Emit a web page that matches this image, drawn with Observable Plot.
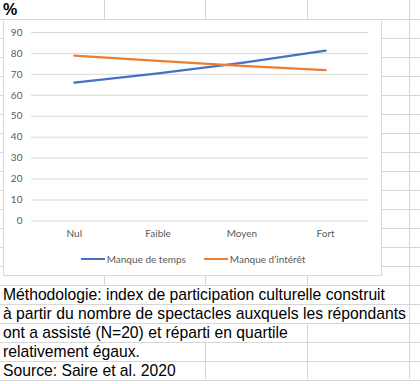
<!DOCTYPE html>
<html>
<head>
<meta charset="utf-8">
<script src="https://cdn.jsdelivr.net/npm/d3@7"></script>
<script src="https://cdn.jsdelivr.net/npm/@observablehq/plot@0.6"></script>
<style>
  html, body { margin: 0; padding: 0; background: #fff; }
  #sheet { position: relative; width: 420px; height: 384px; overflow: hidden; font-family: "Liberation Sans", Arial, sans-serif; }
  .hl, .vl { position: absolute; background: #d6d6d6; }
  .hl { height: 1px; }
  .vl { width: 1px; }
  .cell { position: absolute; left: 3px; font-size: 15.7px; color: #000; white-space: nowrap; line-height: 19px; background: #fff; padding-right: 1px; }
  #chartbox { position: absolute; left: 3px; top: 19px; width: 377px; height: 255px; border: 1px solid #d9d9d9; background: #fff; }
  #chartbox svg { position: absolute; left: 0; top: 0; }
  #legend { position: absolute; left: 0; width: 378px; top: 233px; display: flex; justify-content: center; gap: 18px; font-family: Lato, sans-serif; font-size: 10px; color: #595959; }
  .item { display: flex; align-items: center; gap: 2px; }
  .sw { width: 24px; height: 2px; }
</style>
</head>
<body>
<div id="sheet"></div>
<script>
// ---- data ----
const categories = ["Nul", "Faible", "Moyen", "Fort"];
const seriesNames = ["Manque de temps", "Manque d\u2019intérêt"];
const manqueDeTemps = [66, 70.5, 75.5, 81.3];
const manqueDInteret = [79, 76.4, 74, 72];
const yTicks = [0, 10, 20, 30, 40, 50, 60, 70, 80, 90];
const seriesColors = ["#4472c4", "#ed7d31"];
const headerText = "%";
const noteLines = [
  "Méthodologie: index de participation culturelle construit",
  "à partir du nombre de spectacles auxquels les répondants",
  "ont a assisté (N=20) et réparti en quartile",
  "relativement égaux.",
  "Source: Saire et al. 2020"
];

const data = [
  ...categories.map((c, i) => ({cat: c, value: manqueDeTemps[i], series: seriesNames[0]})),
  ...categories.map((c, i) => ({cat: c, value: manqueDInteret[i], series: seriesNames[1]}))
];

// ---- spreadsheet grid ----
const sheet = document.getElementById("sheet");
const rowH = 19.0, row0 = 18.7;
const colX = [104, 205, 307, 409];
function hline(x, y, w) { const d = document.createElement("div"); d.className = "hl"; d.style.left = x + "px"; d.style.top = Math.round(y) + "px"; d.style.width = w + "px"; sheet.appendChild(d); }
function vline(x, y, h) { const d = document.createElement("div"); d.className = "vl"; d.style.left = x + "px"; d.style.top = Math.round(y) + "px"; d.style.height = Math.round(h) + "px"; sheet.appendChild(d); }
for (let k = 0; k <= 19; k++) hline(0, row0 + rowH * k, 420);
colX.forEach(x => vline(x, 0, 379));

// header cell
const hc = document.createElement("div");
hc.className = "cell"; hc.textContent = headerText;
hc.style.top = "0px"; hc.style.fontWeight = "bold"; hc.style.fontSize = "16px"; hc.style.background = "transparent";
sheet.appendChild(hc);

// note cells (text overflow hides grid lines behind)
noteLines.forEach((t, i) => {
  const c = document.createElement("div");
  c.className = "cell"; c.textContent = t;
  c.style.top = (Math.round(row0 + rowH * (14 + i)) + 1) + "px";
  c.style.height = "18px";
  c.style.lineHeight = "18px";
  sheet.appendChild(c);
});

// ---- chart ----
const box = document.createElement("div");
box.id = "chartbox";
sheet.appendChild(box);

const chart = Plot.plot({
  width: 378,
  height: 230,
  marginLeft: 27,
  marginRight: 13,
  marginTop: 12,
  marginBottom: 29,
  style: {fontFamily: "Lato, sans-serif", fontSize: "10px", color: "#595959", background: "transparent"},
  x: {type: "point", domain: categories, padding: 0.5, label: null},
  y: {domain: [0, 90], label: null},
  color: {domain: seriesNames, range: seriesColors},
  marks: [
    Plot.gridY(yTicks, {stroke: "#d9d9d9", strokeOpacity: 1, strokeWidth: 1}),
    Plot.axisY(yTicks, {tickSize: 0, tickPadding: 9, label: null, fill: "#595959"}),
    Plot.axisX(categories, {tickSize: 0, tickPadding: 9, label: null, fill: "#595959"}),
    Plot.line(data, {x: "cat", y: "value", z: "series", stroke: "series", strokeWidth: 2.25, curve: "linear"})
  ]
});
box.appendChild(chart);

const legend = document.createElement("div");
legend.id = "legend";
seriesNames.forEach((s, i) => {
  const it = document.createElement("div"); it.className = "item";
  const sw = document.createElement("div"); sw.className = "sw"; sw.style.background = seriesColors[i];
  const tx = document.createElement("span"); tx.textContent = s;
  it.appendChild(sw); it.appendChild(tx); legend.appendChild(it);
});
box.appendChild(legend);
</script>
</body>
</html>
